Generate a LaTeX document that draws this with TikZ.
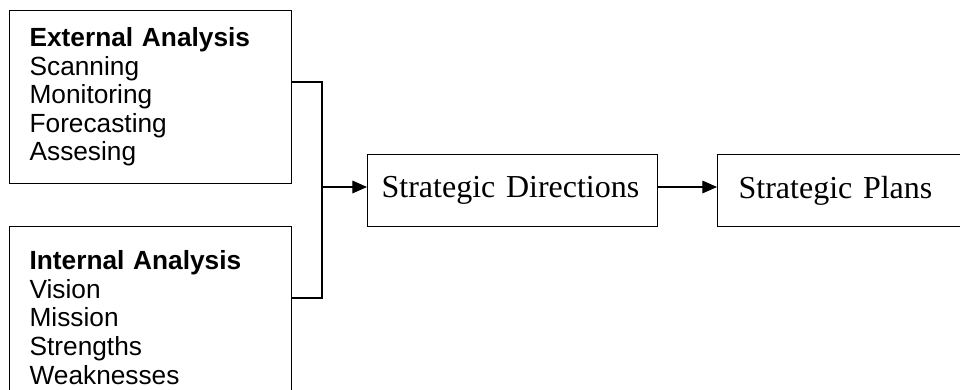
\documentclass[tikz,border=0pt]{standalone}
\usepackage{fontspec}
\setmainfont{Liberation Serif}
\newfontfamily\arialfont{Liberation Sans}
\usetikzlibrary{arrows.meta}
\tikzset{
  line/.style={draw=black, line width=0.9pt},
  arr/.style={line, -{Triangle[length=11pt,width=9.5pt]}},
  listbox/.style={line, rectangle, anchor=north west, align=left,
    text width=181.5pt, inner xsep=15pt, inner ysep=0pt,
    font=\arialfont\fontsize{19.7pt}{21.4pt}\selectfont},
  stagebox/.style={line, rectangle, anchor=north west, align=left,
    minimum height=54pt, inner ysep=0pt,
    font=\fontsize{24pt}{28pt}\selectfont}
}
\begin{document}
\begin{tikzpicture}[x=0.75pt,y=-0.75pt]
\useasboundingbox (0,0) rectangle (960,389);
\clip (0,0) rectangle (960,389);
\node[listbox, minimum height=129.75pt] (ext) at (9,10)
  {\textbf{External Analysis}\\Scanning\\Monitoring\\Forecasting\\Assesing};
\node[listbox, minimum height=136.5pt] (int) at (9,226)
  {\textbf{Internal Analysis}\\Vision\\Mission\\Strengths\\Weaknesses};
\node[stagebox, text width=196.5pt, inner xsep=10.5pt] (dir) at (367,154)
  {Strategic Directions};
\node[stagebox, text width=152.25pt, inner xsep=15.75pt] (plan) at (717,154)
  {Strategic Plans};
\coordinate (jt) at (322,82);
\coordinate (jb) at (322,298);
\coordinate (jm) at (322,187);
\draw[line] (ext.east |- jt) -- (jt) -- (jb) -- (int.east |- jb);
\draw[arr] (jm) -- (dir.west |- jm);
\draw[arr] (dir.east |- jm) -- (plan.west |- jm);
\end{tikzpicture}
\end{document}
